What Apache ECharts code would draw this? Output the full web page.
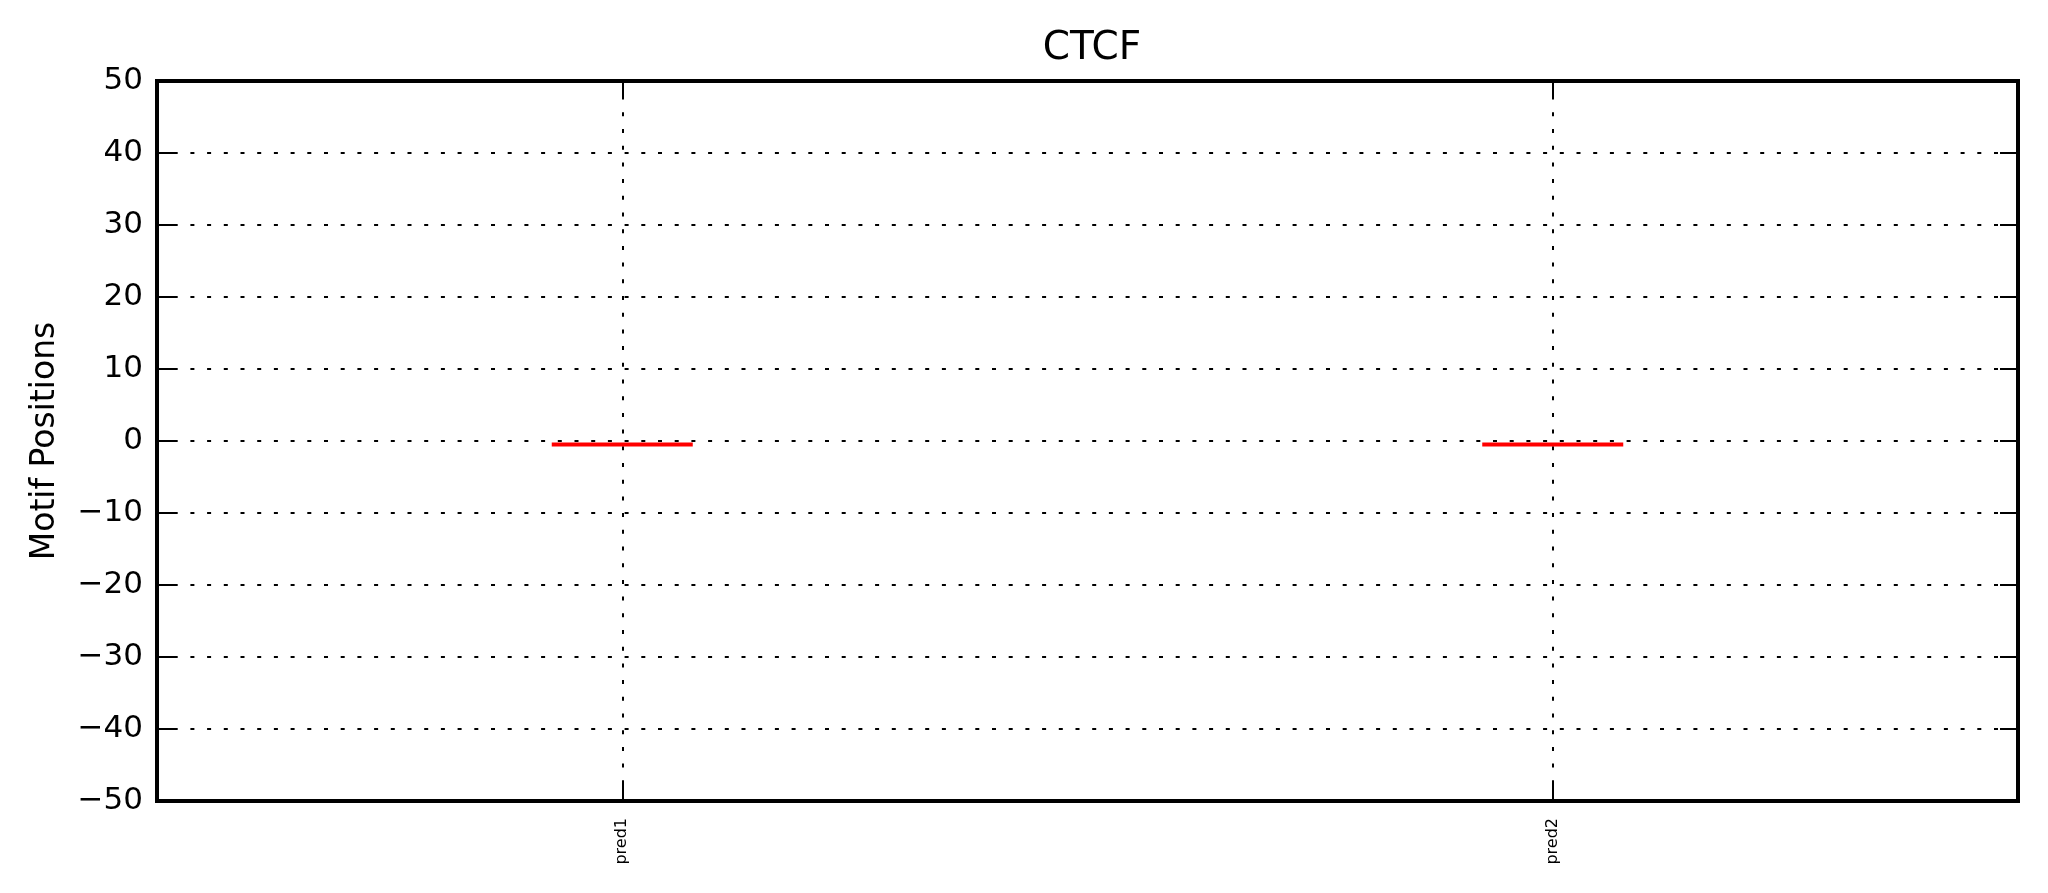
<!DOCTYPE html>
<html>
<head>
<meta charset="utf-8">
<script src="https://cdn.jsdelivr.net/npm/echarts@6/dist/echarts.min.js"></script>
<style>
html,body{margin:0;padding:0;background:#fff;}
#chart{width:2048px;height:893px;}
</style>
</head>
<body>
<div id="chart"></div>
<script>
// ---- data ----
const title = 'CTCF';
const categories = ['pred1', 'pred2'];
// boxplot stats: [min, Q1, median, Q3, max]
const pred1Stats = [-0.5, -0.5, -0.5, -0.5, -0.5];
const pred2Stats = [-0.5, -0.5, -0.5, -0.5, -0.5];
const yMin = -50, yMax = 50, yStep = 10;
const yLabel = 'Motif Positions';

const FONT = 'DejaVu Sans';
const dotted = { color: '#000', width: 2, type: [4, 12.7] };
const fmtMinus = v => String(v).replace('-', '\u2212');
const tickStyle = { color: '#000', width: 2 };

const chart = echarts.init(document.getElementById('chart'));
chart.setOption({
  backgroundColor: '#fff',
  animation: false,
  title: {
    text: title, left: 1087, textAlign: 'center', top: 24,
    textStyle: { fontFamily: FONT, fontSize: 39, fontWeight: 'normal', color: '#000' }
  },
  grid: {
    left: 157, right: 30, top: 81, bottom: 92,
    show: true, borderColor: '#000', borderWidth: 4, backgroundColor: 'transparent'
  },
  xAxis: [{
    type: 'category', data: categories, boundaryGap: true, position: 'bottom',
    axisLine: { show: false, onZero: false },
    axisTick: { show: true, inside: true, alignWithLabel: true, length: 18, lineStyle: tickStyle },
    axisLabel: { rotate: 90, margin: 17, fontFamily: FONT, fontSize: 16, color: '#000' },
    splitLine: { show: false }
  }, {
    type: 'category', data: categories, boundaryGap: true, position: 'top',
    axisLine: { show: false, onZero: false },
    axisTick: { show: true, inside: true, alignWithLabel: true, length: 18, lineStyle: tickStyle },
    axisLabel: { show: false },
    splitLine: { show: false }
  }],
  yAxis: [{
    type: 'value', min: yMin, max: yMax, interval: yStep, position: 'left',
    name: yLabel, nameLocation: 'middle', nameGap: 95, nameRotate: 90,
    nameTextStyle: { fontFamily: FONT, fontSize: 33, color: '#000' },
    axisLine: { show: false, onZero: false },
    axisTick: { show: true, inside: true, length: 18, lineStyle: tickStyle },
    axisLabel: { margin: 14, fontFamily: FONT, fontSize: 31, color: '#000', formatter: fmtMinus },
    splitLine: { show: true, lineStyle: dotted }
  }, {
    type: 'value', min: yMin, max: yMax, interval: yStep, position: 'right',
    axisLine: { show: false, onZero: false },
    axisTick: { show: true, inside: true, length: 18, lineStyle: tickStyle },
    axisLabel: { show: false },
    splitLine: { show: false }
  }],
  series: [{
    type: 'line', xAxisIndex: 0, yAxisIndex: 0, data: [], z: 1, silent: true,
    markLine: {
      silent: true, symbol: ['none', 'none'], label: { show: false },
      lineStyle: dotted,
      data: categories.map(c => ({ xAxis: c }))
    }
  }, {
    type: 'boxplot', xAxisIndex: 0, yAxisIndex: 0, z: 5,
    boxWidth: [141, 141],
    itemStyle: { color: 'transparent', borderColor: '#ff0000', borderWidth: 4 },
    data: [pred1Stats, pred2Stats]
  }]
});
</script>
</body>
</html>
